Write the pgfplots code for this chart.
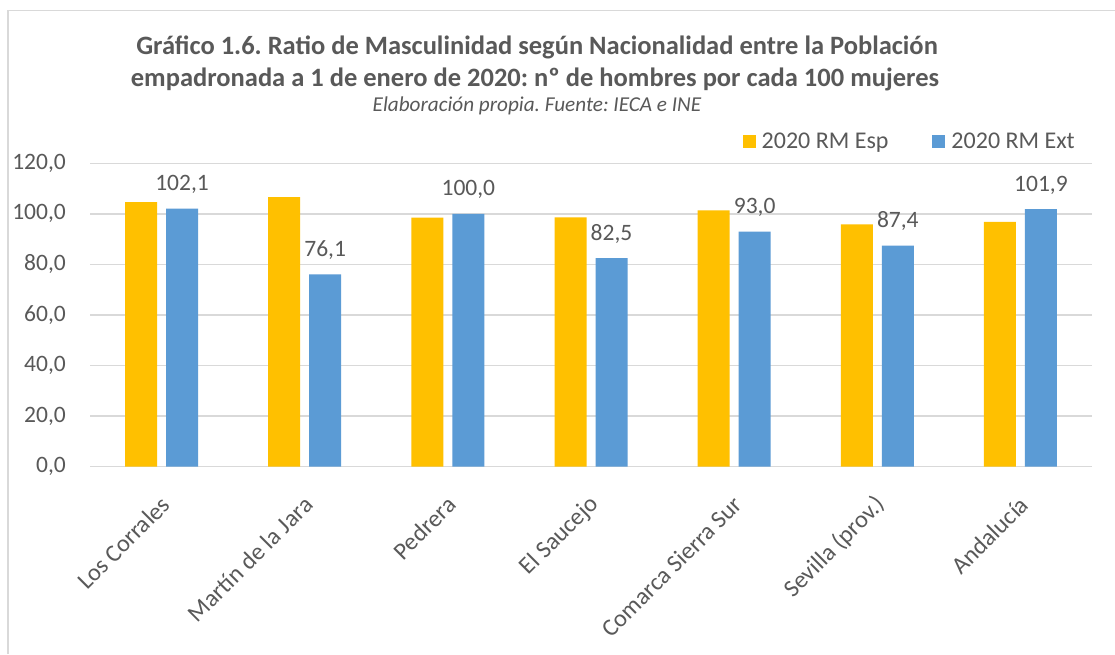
\documentclass[border=0pt]{standalone}
\usepackage{pgfplots}
\pgfplotsset{compat=1.18}
\usepackage{fontspec}
\setmainfont{Carlito}
\frenchspacing
\definecolor{txt}{HTML}{595959}
\definecolor{gridc}{HTML}{D9D9D9}
\definecolor{esp}{HTML}{FFC000}
\definecolor{ext}{HTML}{5B9BD5}
\begin{document}
\begin{tikzpicture}
\path[use as bounding box] (0pt,0pt) rectangle (1115pt,654pt);
\fill[white] (0pt,0pt) rectangle (1115pt,654pt);
\draw[gridc,line width=1.3pt] (8pt,0pt) -- (8pt,643.5pt) -- (1115pt,643.5pt);
% titles
\node[anchor=base,text=txt,font=\fontsize{26.5}{30}\selectfont\bfseries] at (537pt,599pt) {Gráfico 1.6. Ratio de Masculinidad según Nacionalidad entre la Población};
\node[anchor=base,text=txt,font=\fontsize{26.5}{30}\selectfont\bfseries] at (535pt,567.3pt) {empadronada a 1 de enero de 2020: nº de hombres por cada 100 mujeres};
\node[anchor=base,text=txt,font=\fontsize{21.2}{24}\selectfont\itshape] at (537pt,542pt) {Elaboración propia. Fuente: IECA e INE};
\begin{axis}[
  at={(90pt,187.3pt)}, anchor=south west,
  scale only axis, width=1002pt, height=303.4pt,
  xmin=-0.5, xmax=6.5, ymin=0, ymax=120,
  ytick={0,20,...,120},
  axis line style={draw=none},
  ymajorgrids, xmajorgrids=false, grid style={draw=gridc,line width=1.3pt},
  tick style={draw=none},
  major tick length=0pt,
  xtick=data,
  xticklabels={Los Corrales,Martín de la Jara,Pedrera,El Saucejo,Comarca Sierra Sur,Sevilla (prov.),Andalucía},
  xticklabel style={xshift=4pt, rotate=45, anchor=east, inner sep=0pt, text=txt, font=\fontsize{24.3}{27}\selectfont},
  xticklabel shift=34pt,
  yticklabel style={text=txt, font=\fontsize{23.5}{26}\selectfont, inner sep=0pt},
  yticklabel shift=24pt,
  /pgf/number format/assume math mode=true,
  yticklabel={\pgfmathprintnumber[fixed,fixed zerofill,precision=1,use comma]{\tick}},
  ybar=9pt, bar width=32pt,
  legend style={draw=none, fill=none, at={(0.983,1.0718)}, anchor=east,
    legend columns=2, inner sep=0pt, font=\fontsize{24}{28}\selectfont, text=txt,
    nodes={inner sep=0pt},
    /tikz/every even column/.append style={column sep=44pt}},
  legend image code/.code={\fill[#1] (0pt,-6.5pt) rectangle (13pt,6.5pt); \path (19pt,0pt);},
  clip=false,
]
\addplot[fill=esp, draw=none] coordinates {(0,104.6) (1,106.6) (2,98.5) (3,98.6) (4,101.4) (5,95.8) (6,96.8)};
\addplot[fill=ext, draw=none,
  nodes near coords={\pgfmathprintnumber[fixed,fixed zerofill,precision=1,use comma]{\pgfplotspointmeta}},
  nodes near coords style={text=txt, font=\fontsize{23.5}{26}\selectfont, anchor=base, yshift=18pt, inner sep=0pt},
  point meta=explicit symbolic]
  coordinates {(0,102.1) [102.1] (1,76.1) [76.1] (2,100.0) [100.0] (3,82.5) [82.5] (4,93.0) [93.0] (5,87.4) [87.4] (6,101.9) [101.9]};
\legend{2020 RM Esp, 2020 RM Ext}
\end{axis}
\end{tikzpicture}
\end{document}
